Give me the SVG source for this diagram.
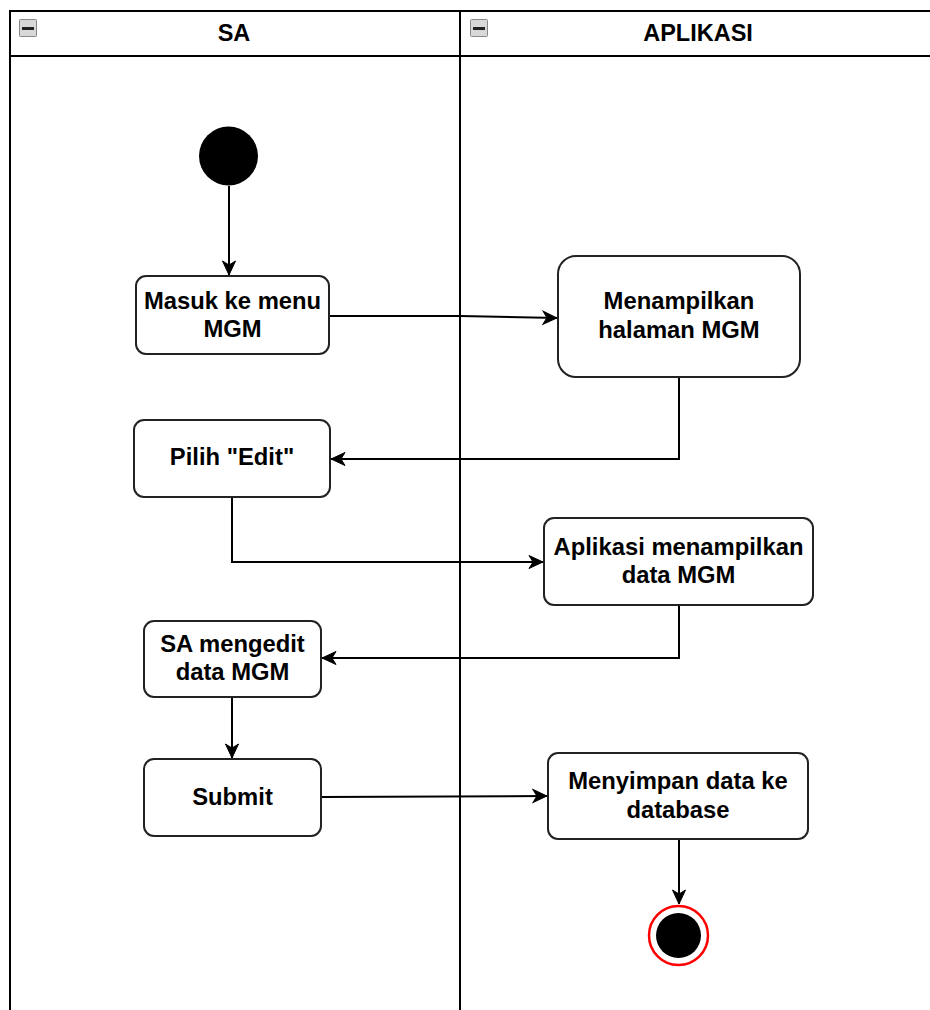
<svg xmlns="http://www.w3.org/2000/svg" width="930" height="1010" viewBox="0 0 930 1010">
  <style>
    .frame { fill: none; stroke: #000; stroke-width: 2; }
    .box { fill: #fff; stroke: #222; stroke-width: 2; }
    .lbl { font-family: "Liberation Sans", Arial, sans-serif; font-weight: bold; font-size: 23.8px; fill: #000; text-anchor: middle; }
    .hdr { font-family: "Liberation Sans", Arial, sans-serif; font-weight: bold; font-size: 23.5px; fill: #000; text-anchor: middle; }
    .edge { fill: none; stroke: #000; stroke-width: 2; }
    .tog { fill: #d8d8d8; stroke: #888; stroke-width: 1; }
  </style>
  <defs>
    <marker id="arrow" viewBox="0 0 16 16" refX="15" refY="8" markerWidth="16" markerHeight="16" markerUnits="userSpaceOnUse" orient="auto">
      <path d="M1,1.5 L15,8 L1,14.5 L5,8 z" fill="#000" stroke="#000" stroke-width="1"/>
    </marker>
  </defs>
  <rect width="930" height="1010" fill="#fff"/>

  <!-- swimlane pool -->
  <g id="pool">
    <line class="frame" x1="10" y1="11" x2="940" y2="11"/>
    <line class="frame" x1="10" y1="56" x2="940" y2="56"/>
    <line class="frame" x1="10" y1="10" x2="10" y2="1015"/>
    <line class="frame" x1="460" y1="10" x2="460" y2="1015"/>
  </g>
  <g id="lane-sa">
    <rect class="tog" x="19.5" y="19.5" width="17" height="17" rx="1"/>
    <rect x="22" y="27" width="12" height="3" fill="#222"/>
    <text class="hdr" x="234" y="41">SA</text>
  </g>
  <g id="lane-aplikasi">
    <rect class="tog" x="470.5" y="19.5" width="17" height="17" rx="1"/>
    <rect x="473" y="27" width="12" height="3" fill="#222"/>
    <text class="hdr" x="698" y="41">APLIKASI</text>
  </g>

  <!-- connectors -->
  <g id="edges">
    <path class="edge" d="M229,186 L229,275" marker-end="url(#arrow)"/>
    <path class="edge" d="M329,316 L460,316 L557,318" marker-end="url(#arrow)"/>
    <path class="edge" d="M679,377 L679,459 L331,459" marker-end="url(#arrow)"/>
    <path class="edge" d="M232,497 L232,562 L543,562" marker-end="url(#arrow)"/>
    <path class="edge" d="M679,605 L679,658 L322,658" marker-end="url(#arrow)"/>
    <path class="edge" d="M232,697 L232,758" marker-end="url(#arrow)"/>
    <path class="edge" d="M321,797 L547,796" marker-end="url(#arrow)"/>
    <path class="edge" d="M679,839 L679,904" marker-end="url(#arrow)"/>
  </g>

  <!-- nodes -->
  <g id="start">
    <circle cx="228.5" cy="156" r="29.5" fill="#000"/>
  </g>
  <g id="masuk-menu">
    <rect class="box" x="136" y="276" width="193" height="78" rx="10"/>
    <text class="lbl" x="232.5" y="309">Masuk ke menu</text>
    <text class="lbl" x="232.5" y="337">MGM</text>
  </g>
  <g id="menampilkan-halaman">
    <rect class="box" x="558" y="256" width="242" height="121" rx="18"/>
    <text class="lbl" x="679" y="309">Menampilkan</text>
    <text class="lbl" x="679" y="338">halaman MGM</text>
  </g>
  <g id="pilih-edit">
    <rect class="box" x="134" y="420" width="196" height="77" rx="10"/>
    <text class="lbl" x="232" y="465">Pilih "Edit"</text>
  </g>
  <g id="tampilkan-data">
    <rect class="box" x="544" y="518" width="269" height="87" rx="10"/>
    <text class="lbl" x="678.5" y="555">Aplikasi menampilkan</text>
    <text class="lbl" x="678.5" y="583">data MGM</text>
  </g>
  <g id="sa-mengedit">
    <rect class="box" x="144" y="621" width="177" height="76" rx="10"/>
    <text class="lbl" x="232.5" y="652">SA mengedit</text>
    <text class="lbl" x="232.5" y="680">data MGM</text>
  </g>
  <g id="submit">
    <rect class="box" x="144" y="759" width="177" height="77" rx="10"/>
    <text class="lbl" x="232.5" y="805">Submit</text>
  </g>
  <g id="menyimpan">
    <rect class="box" x="548" y="753" width="260" height="86" rx="10"/>
    <text class="lbl" x="678" y="789">Menyimpan data ke</text>
    <text class="lbl" x="678" y="818">database</text>
  </g>
  <g id="end">
    <circle cx="678.5" cy="935.5" r="29.5" fill="#fff" stroke="#ff0000" stroke-width="2.5"/>
    <circle cx="678.5" cy="935.5" r="22.5" fill="#000"/>
  </g>
</svg>
